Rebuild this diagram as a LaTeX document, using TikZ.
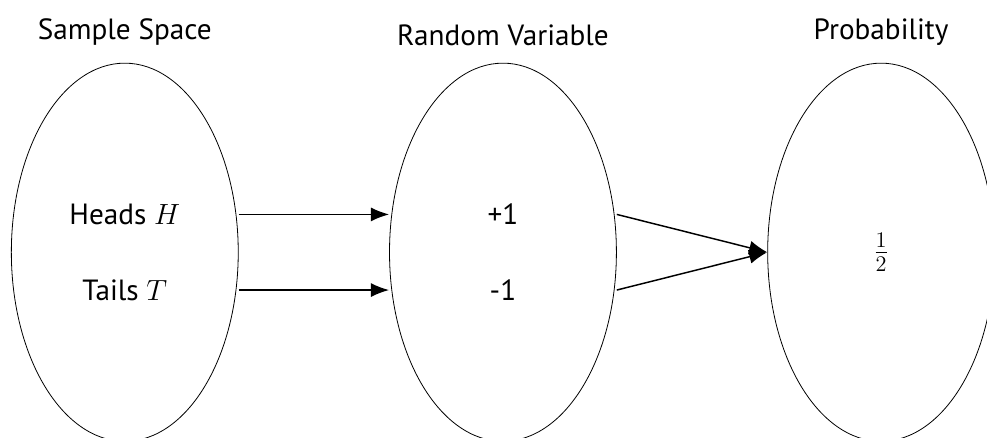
\RequirePackage{fix-cm}
\documentclass[tikz,border=0pt]{standalone}
\usepackage[no-math]{fontspec}
\setmainfont{PT Sans}
\usetikzlibrary{arrows.meta,positioning,shapes.geometric}
\tikzset{
  set/.style={draw, ellipse, line width=.6pt, minimum width=6cm, minimum height=10cm, inner sep=0pt},
  title/.style={inner sep=0pt},
  map/.style={->, line width=1.1pt},
}
\begin{document}
\begin{tikzpicture}[>={Latex[length=4.8mm,width=3.7mm]}, font=\fontsize{22}{26}\selectfont]
\clip (0,-4.9) rectangle (26.1,6.67);
\foreach \n/\x/\t in {omega/3.3/Sample Space, rv/13.3/Random Variable, prob/23.3/Probability}
{
    \node[set] (\n) at (\x,0){};
    \node[title, above=.45cm of \n] (\n-t){\t};
}
\node (heads) at (3.3,1){Heads $H$};
\node (tails) at (3.3,-1){Tails $T$};
\node (plus) at (13.3,1){+1};
\node (minus) at (13.3,-1){-1};
\node[font=\fontsize{24}{28}\selectfont] (half) at (23.3,0){$\frac{1}{2}$};
\draw[map] (omega.east |- heads)--(rv.west |- plus);
\draw[map] (omega.east |- tails)--(rv.west |- minus);
\draw[map] (rv.east |- plus)--(prob.west);
\draw[map] (rv.east |- minus)--(prob.west);
\end{tikzpicture}
\end{document}
